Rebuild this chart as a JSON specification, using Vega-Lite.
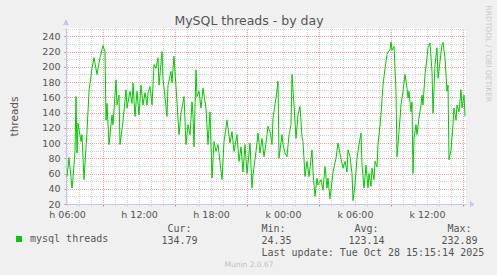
{
  "$schema": "https://vega.github.io/schema/vega-lite/v6.json",
  "width": 400,
  "height": 176,
  "autosize": "none",
  "padding": {"left": 66, "top": 28, "right": 31, "bottom": 71},
  "background": "#f0f0f0",
  "config": {"view": {"fill": "white", "stroke": null}},
  "data": {"values": [
    {"t":"2025-10-27T06:00","v":56},{"t":"2025-10-27T06:10","v":81},{"t":"2025-10-27T06:25","v":41},{"t":"2025-10-27T06:30","v":54},
    {"t":"2025-10-27T06:40","v":89},{"t":"2025-10-27T06:45","v":161},{"t":"2025-10-27T06:50","v":87},{"t":"2025-10-27T06:55","v":126},
    {"t":"2025-10-27T07:10","v":102},{"t":"2025-10-27T07:15","v":111},{"t":"2025-10-27T07:25","v":52},{"t":"2025-10-27T07:40","v":115},
    {"t":"2025-10-27T07:50","v":168},{"t":"2025-10-27T08:05","v":198},{"t":"2025-10-27T08:15","v":212},{"t":"2025-10-27T08:30","v":190},
    {"t":"2025-10-27T08:45","v":212},{"t":"2025-10-27T09:00","v":228},{"t":"2025-10-27T09:10","v":220},{"t":"2025-10-27T09:15","v":130},
    {"t":"2025-10-27T09:20","v":152},{"t":"2025-10-27T09:30","v":98},{"t":"2025-10-27T09:45","v":137},{"t":"2025-10-27T09:50","v":124},
    {"t":"2025-10-27T10:05","v":183},{"t":"2025-10-27T10:10","v":150},{"t":"2025-10-27T10:20","v":163},{"t":"2025-10-27T10:25","v":98},
    {"t":"2025-10-27T10:40","v":128},{"t":"2025-10-27T10:55","v":170},{"t":"2025-10-27T11:00","v":146},{"t":"2025-10-27T11:15","v":168},
    {"t":"2025-10-27T11:25","v":152},{"t":"2025-10-27T11:30","v":179},{"t":"2025-10-27T11:40","v":135},{"t":"2025-10-27T11:50","v":168},
    {"t":"2025-10-27T12:00","v":137},{"t":"2025-10-27T12:10","v":176},{"t":"2025-10-27T12:20","v":150},{"t":"2025-10-27T12:30","v":166},
    {"t":"2025-10-27T12:40","v":150},{"t":"2025-10-27T12:45","v":166},{"t":"2025-10-27T12:55","v":174},{"t":"2025-10-27T13:05","v":150},
    {"t":"2025-10-27T13:15","v":203},{"t":"2025-10-27T13:25","v":198},{"t":"2025-10-27T13:35","v":212},{"t":"2025-10-27T13:40","v":176},
    {"t":"2025-10-27T13:55","v":220},{"t":"2025-10-27T14:00","v":185},{"t":"2025-10-27T14:20","v":135},{"t":"2025-10-27T14:25","v":176},
    {"t":"2025-10-27T14:40","v":194},{"t":"2025-10-27T14:45","v":179},{"t":"2025-10-27T14:55","v":214},{"t":"2025-10-27T15:05","v":174},
    {"t":"2025-10-27T15:20","v":111},{"t":"2025-10-27T15:30","v":139},{"t":"2025-10-27T15:45","v":161},{"t":"2025-10-27T15:55","v":98},
    {"t":"2025-10-27T16:05","v":124},{"t":"2025-10-27T16:15","v":111},{"t":"2025-10-27T16:25","v":154},{"t":"2025-10-27T16:30","v":137},
    {"t":"2025-10-27T16:35","v":95},{"t":"2025-10-27T16:45","v":196},{"t":"2025-10-27T16:50","v":161},{"t":"2025-10-27T17:00","v":168},
    {"t":"2025-10-27T17:10","v":146},{"t":"2025-10-27T17:20","v":172},{"t":"2025-10-27T17:35","v":146},{"t":"2025-10-27T17:45","v":98},
    {"t":"2025-10-27T17:55","v":141},{"t":"2025-10-27T18:05","v":54},{"t":"2025-10-27T18:15","v":102},{"t":"2025-10-27T18:25","v":89},
    {"t":"2025-10-27T18:35","v":98},{"t":"2025-10-27T18:55","v":52},{"t":"2025-10-27T19:05","v":102},{"t":"2025-10-27T19:20","v":130},
    {"t":"2025-10-27T19:35","v":100},{"t":"2025-10-27T19:45","v":115},{"t":"2025-10-27T19:55","v":89},{"t":"2025-10-27T20:10","v":111},
    {"t":"2025-10-27T20:20","v":76},{"t":"2025-10-27T20:30","v":95},{"t":"2025-10-27T20:40","v":62},{"t":"2025-10-27T20:50","v":98},
    {"t":"2025-10-27T21:00","v":60},{"t":"2025-10-27T21:15","v":100},{"t":"2025-10-27T21:25","v":41},{"t":"2025-10-27T21:30","v":58},
    {"t":"2025-10-27T21:45","v":89},{"t":"2025-10-27T21:55","v":113},{"t":"2025-10-27T22:05","v":87},{"t":"2025-10-27T22:15","v":106},
    {"t":"2025-10-27T22:25","v":82},{"t":"2025-10-27T22:35","v":100},{"t":"2025-10-27T22:45","v":122},{"t":"2025-10-27T22:55","v":115},
    {"t":"2025-10-27T23:05","v":98},{"t":"2025-10-27T23:10","v":133},{"t":"2025-10-27T23:25","v":159},{"t":"2025-10-27T23:35","v":181},
    {"t":"2025-10-27T23:40","v":80},{"t":"2025-10-27T23:55","v":111},
    {"t":"2025-10-28T00:00","v":98},{"t":"2025-10-28T00:10","v":87},{"t":"2025-10-28T00:20","v":82},{"t":"2025-10-28T00:30","v":111},
    {"t":"2025-10-28T00:40","v":124},{"t":"2025-10-28T00:45","v":190},{"t":"2025-10-28T00:55","v":150},{"t":"2025-10-28T01:05","v":106},
    {"t":"2025-10-28T01:15","v":137},{"t":"2025-10-28T01:25","v":148},{"t":"2025-10-28T01:35","v":108},{"t":"2025-10-28T01:40","v":102},
    {"t":"2025-10-28T01:50","v":56},{"t":"2025-10-28T02:00","v":76},{"t":"2025-10-28T02:10","v":56},{"t":"2025-10-28T02:25","v":91},
    {"t":"2025-10-28T02:30","v":62},{"t":"2025-10-28T02:40","v":30},{"t":"2025-10-28T02:50","v":54},{"t":"2025-10-28T02:55","v":45},
    {"t":"2025-10-28T03:10","v":52},{"t":"2025-10-28T03:20","v":38},{"t":"2025-10-28T03:30","v":69},{"t":"2025-10-28T03:40","v":41},
    {"t":"2025-10-28T03:45","v":54},{"t":"2025-10-28T03:55","v":27},{"t":"2025-10-28T04:05","v":49},{"t":"2025-10-28T04:10","v":62},
    {"t":"2025-10-28T04:25","v":80},{"t":"2025-10-28T04:35","v":100},{"t":"2025-10-28T04:45","v":86},{"t":"2025-10-28T05:00","v":67},
    {"t":"2025-10-28T05:10","v":76},{"t":"2025-10-28T05:20","v":62},{"t":"2025-10-28T05:25","v":91},{"t":"2025-10-28T05:35","v":82},
    {"t":"2025-10-28T05:45","v":60},{"t":"2025-10-28T05:50","v":24.35},{"t":"2025-10-28T06:00","v":45},{"t":"2025-10-28T06:10","v":80},
    {"t":"2025-10-28T06:20","v":98},{"t":"2025-10-28T06:30","v":113},{"t":"2025-10-28T06:35","v":71},{"t":"2025-10-28T06:45","v":41},
    {"t":"2025-10-28T06:55","v":71},{"t":"2025-10-28T07:05","v":41},{"t":"2025-10-28T07:10","v":60},{"t":"2025-10-28T07:20","v":43},
    {"t":"2025-10-28T07:25","v":67},{"t":"2025-10-28T07:35","v":52},{"t":"2025-10-28T07:40","v":76},{"t":"2025-10-28T07:50","v":69},
    {"t":"2025-10-28T07:55","v":98},{"t":"2025-10-28T08:10","v":137},{"t":"2025-10-28T08:20","v":176},{"t":"2025-10-28T08:30","v":198},
    {"t":"2025-10-28T08:40","v":216},{"t":"2025-10-28T08:45","v":220},{"t":"2025-10-28T08:55","v":222},{"t":"2025-10-28T09:00","v":232.89},
    {"t":"2025-10-28T09:05","v":222},{"t":"2025-10-28T09:15","v":227},{"t":"2025-10-28T09:25","v":168},{"t":"2025-10-28T09:30","v":82},
    {"t":"2025-10-28T09:40","v":115},{"t":"2025-10-28T09:50","v":150},{"t":"2025-10-28T10:00","v":168},{"t":"2025-10-28T10:10","v":190},
    {"t":"2025-10-28T10:20","v":172},{"t":"2025-10-28T10:25","v":159},{"t":"2025-10-28T10:30","v":168},{"t":"2025-10-28T10:40","v":141},
    {"t":"2025-10-28T10:45","v":154},{"t":"2025-10-28T10:50","v":60},{"t":"2025-10-28T10:55","v":106},{"t":"2025-10-28T11:05","v":124},
    {"t":"2025-10-28T11:10","v":111},{"t":"2025-10-28T11:20","v":133},{"t":"2025-10-28T11:30","v":150},{"t":"2025-10-28T11:35","v":163},
    {"t":"2025-10-28T11:40","v":150},{"t":"2025-10-28T11:50","v":190},{"t":"2025-10-28T12:00","v":212},{"t":"2025-10-28T12:05","v":225},
    {"t":"2025-10-28T12:15","v":231},{"t":"2025-10-28T12:25","v":194},{"t":"2025-10-28T12:30","v":139},{"t":"2025-10-28T12:40","v":203},
    {"t":"2025-10-28T12:50","v":225},{"t":"2025-10-28T12:55","v":185},{"t":"2025-10-28T13:05","v":207},{"t":"2025-10-28T13:15","v":229},
    {"t":"2025-10-28T13:20","v":232},{"t":"2025-10-28T13:30","v":212},{"t":"2025-10-28T13:40","v":168},{"t":"2025-10-28T13:45","v":176},
    {"t":"2025-10-28T13:50","v":78},{"t":"2025-10-28T14:00","v":91},{"t":"2025-10-28T14:10","v":124},{"t":"2025-10-28T14:15","v":146},
    {"t":"2025-10-28T14:25","v":130},{"t":"2025-10-28T14:30","v":150},{"t":"2025-10-28T14:40","v":141},{"t":"2025-10-28T14:50","v":170},
    {"t":"2025-10-28T14:55","v":146},{"t":"2025-10-28T15:05","v":163},{"t":"2025-10-28T15:10","v":134.79}
  ]},
  "resolve": {"axis": {"x": "independent", "y": "independent"}},
  "layer": [
    {
      "mark": {"type": "line", "strokeWidth": 1},
      "encoding": {
        "x": {
          "field": "t", "type": "temporal",
          "scale": {"domain": [{"year": 2025, "month": 10, "date": 27, "hours": 5, "minutes": 55}, {"year": 2025, "month": 10, "date": 28, "hours": 15, "minutes": 15}], "nice": false},
          "axis": {
            "orient": "bottom",
            "values": [
              {"year":2025,"month":10,"date":27,"hours":6},{"year":2025,"month":10,"date":27,"hours":7},{"year":2025,"month":10,"date":27,"hours":8},
              {"year":2025,"month":10,"date":27,"hours":9},{"year":2025,"month":10,"date":27,"hours":10},{"year":2025,"month":10,"date":27,"hours":11},
              {"year":2025,"month":10,"date":27,"hours":12},{"year":2025,"month":10,"date":27,"hours":13},{"year":2025,"month":10,"date":27,"hours":14},
              {"year":2025,"month":10,"date":27,"hours":15},{"year":2025,"month":10,"date":27,"hours":16},{"year":2025,"month":10,"date":27,"hours":17},
              {"year":2025,"month":10,"date":27,"hours":18},{"year":2025,"month":10,"date":27,"hours":19},{"year":2025,"month":10,"date":27,"hours":20},
              {"year":2025,"month":10,"date":27,"hours":21},{"year":2025,"month":10,"date":27,"hours":22},{"year":2025,"month":10,"date":27,"hours":23},
              {"year":2025,"month":10,"date":28,"hours":0},{"year":2025,"month":10,"date":28,"hours":1},{"year":2025,"month":10,"date":28,"hours":2},
              {"year":2025,"month":10,"date":28,"hours":3},{"year":2025,"month":10,"date":28,"hours":4},{"year":2025,"month":10,"date":28,"hours":5},
              {"year":2025,"month":10,"date":28,"hours":6},{"year":2025,"month":10,"date":28,"hours":7},{"year":2025,"month":10,"date":28,"hours":8},
              {"year":2025,"month":10,"date":28,"hours":9},{"year":2025,"month":10,"date":28,"hours":10},{"year":2025,"month":10,"date":28,"hours":11},
              {"year":2025,"month":10,"date":28,"hours":12},{"year":2025,"month":10,"date":28,"hours":13},{"year":2025,"month":10,"date":28,"hours":14},
              {"year":2025,"month":10,"date":28,"hours":15}
            ],
            "labelExpr": "hours(datum.value) % 6 == 0 ? (date(datum.value) == 27 ? 'h ' : 'k ') + timeFormat(datum.value, '%H:%M') : ''",
            "labelFont": "DejaVu Sans", "labelFontSize": 9.5, "labelColor": "#555555",
            "labelOverlap": false, "labelFlush": false, "labelPadding": 3,
            "grid": true, "gridDash": [1, 1], "gridDashOffset": 0.5,
            "gridColor": {"condition": {"test": "hours(datum.value) % 6 == 3", "value": "#f2a0a0"}, "value": "#d0d0d0"},
            "tickSize": 2,
            "tickColor": {"condition": {"test": "hours(datum.value) % 6 == 3", "value": "#f07070"}, "value": "#d0d0d0"},
            "domainColor": "#c4c8f0",
            "title": ["Min:", "24.35", "Last update: Tue Oct 28 15:15:14 2025"],
            "titleFont": "DejaVu Sans Mono", "titleFontSize": 10, "titleFontWeight": "normal", "titleColor": "#555555",
            "titleX": 195, "titleY": 27, "titleAlign": "left", "titleBaseline": "alphabetic", "titleAngle": 0, "titleLineHeight": 12.2
          }
        },
        "y": {
          "field": "v", "type": "quantitative",
          "scale": {"domain": [20, 251], "nice": false, "zero": false},
          "axis": {
            "orient": "left",
            "values": [20, 30, 40, 50, 60, 70, 80, 90, 100, 110, 120, 130, 140, 150, 160, 170, 180, 190, 200, 210, 220, 230, 240, 250],
            "labelExpr": "datum.value % 20 == 0 ? datum.label : ''",
            "labelFont": "DejaVu Sans", "labelFontSize": 9.5, "labelColor": "#555555", "labelPadding": 4, "labelOverlap": false,
            "grid": true, "gridDash": [1, 1], "gridDashOffset": 0.5,
            "gridColor": {"condition": {"test": "datum.value % 20 == 0", "value": "#f2a0a0"}, "value": "#d0d0d0"},
            "tickSize": 2,
            "tickColor": {"condition": {"test": "datum.value % 20 == 0", "value": "#f07070"}, "value": "#d0d0d0"},
            "domainColor": "#c4c8f0",
            "title": "threads", "titleFont": "DejaVu Sans", "titleFontSize": 10.5, "titleFontWeight": "normal", "titleColor": "#555555",
            "titleX": -52, "titleY": 88, "titleAngle": -90, "titleAlign": "center", "titleBaseline": "middle"
          }
        },
        "color": {
          "datum": "mysql threads", "type": "nominal",
          "scale": {"range": ["#00cc00"]},
          "legend": {
            "orient": "none", "legendX": -52, "legendY": 206, "title": null,
            "symbolType": "square", "symbolSize": 36, "symbolFillColor": "#00cc00", "symbolStrokeWidth": 0, "labelOffset": 6,
            "labelFont": "DejaVu Sans Mono", "labelFontSize": 10, "labelColor": "#555555"
          }
        }
      }
    },
    {
      "mark": {"type": "line", "strokeOpacity": 0},
      "encoding": {
        "x": {"field": "t", "type": "temporal", "axis": {
          "orient": "top", "labels": false, "ticks": false, "domain": false, "grid": false,
          "title": "MySQL threads - by day", "titleFont": "DejaVu Sans", "titleFontSize": 12.5, "titleFontWeight": "normal", "titleColor": "#555555",
          "titleX": 182.5, "titleY": -4, "titleAlign": "center", "titleBaseline": "alphabetic", "titleAngle": 0
        }},
        "y": {"field": "v", "type": "quantitative", "axis": {
          "orient": "right", "labels": false, "ticks": false, "domain": false, "grid": false,
          "title": "RRDTOOL / TOBI OETIKER", "titleFont": "DejaVu Sans", "titleFontSize": 7.5, "titleFontWeight": "normal", "titleColor": "#c8c8c8",
          "titleX": 21, "titleY": -23, "titleAngle": 90, "titleAlign": "left", "titleBaseline": "middle"
        }}
      }
    },
    {
      "mark": {"type": "line", "strokeOpacity": 0},
      "encoding": {
        "x": {"field": "t", "type": "temporal", "axis": {
          "orient": "bottom", "labels": false, "ticks": false, "domain": false, "grid": false,
          "title": "Munin 2.0.67", "titleFont": "DejaVu Sans", "titleFontSize": 7.5, "titleFontWeight": "normal", "titleColor": "#c0c0c0",
          "titleX": 182.5, "titleY": 62, "titleAlign": "center", "titleBaseline": "alphabetic", "titleAngle": 0
        }},
        "y": {"field": "v", "type": "quantitative", "axis": {
          "orient": "left", "labels": false, "ticks": false, "domain": false, "grid": false,
          "title": ["\u200b\u00a0Cur:", "134.79"], "titleFont": "DejaVu Sans Mono", "titleFontSize": 10, "titleFontWeight": "normal", "titleColor": "#555555",
          "titleX": 95, "titleY": 203, "titleAlign": "left", "titleBaseline": "alphabetic", "titleAngle": 0, "titleLineHeight": 12.2
        }}
      }
    },
    {
      "mark": {"type": "point", "shape": "triangle-up", "filled": true, "size": 22, "color": "#c4c8f0", "opacity": 1},
      "encoding": {
        "x": {"datum": {"year": 2025, "month": 10, "date": 27, "hours": 5, "minutes": 55}, "type": "temporal", "axis": null},
        "y": {"datum": 258, "type": "quantitative", "axis": {
          "orient": "left", "labels": false, "ticks": false, "domain": false, "grid": false,
          "title": ["\u200b\u00a0Avg:", "123.14"], "titleFont": "DejaVu Sans Mono", "titleFontSize": 10, "titleFontWeight": "normal", "titleColor": "#555555",
          "titleX": 282, "titleY": 203, "titleAlign": "left", "titleBaseline": "alphabetic", "titleAngle": 0, "titleLineHeight": 12.2
        }}
      }
    },
    {
      "mark": {"type": "point", "shape": "triangle-right", "filled": true, "size": 22, "color": "#c4c8f0", "opacity": 1},
      "encoding": {
        "x": {"datum": {"year": 2025, "month": 10, "date": 28, "hours": 15, "minutes": 45}, "type": "temporal", "axis": null},
        "y": {"datum": 20, "type": "quantitative", "axis": {
          "orient": "left", "labels": false, "ticks": false, "domain": false, "grid": false,
          "title": ["\u200b\u00a0Max:", "232.89"], "titleFont": "DejaVu Sans Mono", "titleFontSize": 10, "titleFontWeight": "normal", "titleColor": "#555555",
          "titleX": 375, "titleY": 203, "titleAlign": "left", "titleBaseline": "alphabetic", "titleAngle": 0, "titleLineHeight": 12.2
        }}
      }
    }
  ]
}
